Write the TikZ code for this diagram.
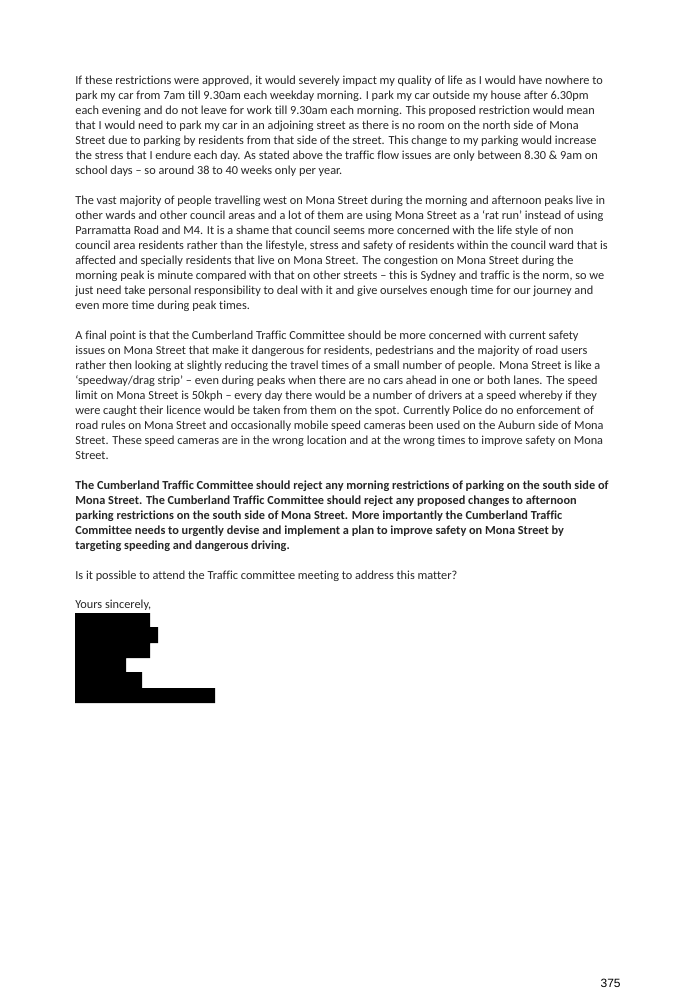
\documentclass[tikz,border=0pt]{standalone}
\usepackage{fontspec}
\setmainfont{Carlito}[Ligatures=NoCommon]
\newfontfamily\pagefont{Liberation Sans}
\tikzset{every picture/.style={line width=0.75pt}}
\tikzset{
  txt/.style={anchor=base west,inner sep=0pt,font=\fontsize{12.3}{15}\selectfont,text=black!85},
  btxt/.style={txt,font=\fontsize{12.3}{15}\selectfont\bfseries}
}
\begin{document}
\begin{tikzpicture}[x=1pt,y=1pt,yscale=-1,xscale=1]
    \useasboundingbox[fill=white] (0,0) rectangle (682,989);

    % Paragraph 1
    \node[txt] (a1) at (75,84) {If these restrictions were approved, it would severely impact my quality of life as I would have nowhere to};
    \node[txt] (a2) at (75,99) {park my car from 7am till 9.30am each weekday morning. I park my car outside my house after 6.30pm};
    \node[txt] (a3) at (75,114) {each evening and do not leave for work till 9.30am each morning. This proposed restriction would mean};
    \node[txt] (a4) at (75,129) {that I would need to park my car in an adjoining street as there is no room on the north side of Mona};
    \node[txt] (a5) at (75,144) {Street due to parking by residents from that side of the street. This change to my parking would increase};
    \node[txt] (a6) at (75,159) {the stress that I endure each day. As stated above the traffic flow issues are only between 8.30 \& 9am on};
    \node[txt] (a7) at (75,174) {school days – so around 38 to 40 weeks only per year.};

    % Paragraph 2
    \node[txt] (b1) at (75,204) {The vast majority of people travelling west on Mona Street during the morning and afternoon peaks live in};
    \node[txt] (b2) at (75,219) {other wards and other council areas and a lot of them are using Mona Street as a ‘rat run’ instead of using};
    \node[txt] (b3) at (75,234) {Parramatta Road and M4. It is a shame that council seems more concerned with the life style of non};
    \node[txt] (b4) at (75,249) {council area residents rather than the lifestyle, stress and safety of residents within the council ward that is};
    \node[txt] (b5) at (75,264) {affected and specially residents that live on Mona Street. The congestion on Mona Street during the};
    \node[txt] (b6) at (75,279) {morning peak is minute compared with that on other streets – this is Sydney and traffic is the norm, so we};
    \node[txt] (b7) at (75,294) {just need take personal responsibility to deal with it and give ourselves enough time for our journey and};
    \node[txt] (b8) at (75,309) {even more time during peak times.};

    % Paragraph 3
    \node[txt] (c1) at (75,339) {A final point is that the Cumberland Traffic Committee should be more concerned with current safety};
    \node[txt] (c2) at (75,354) {issues on Mona Street that make it dangerous for residents, pedestrians and the majority of road users};
    \node[txt] (c3) at (75,369) {rather then looking at slightly reducing the travel times of a small number of people. Mona Street is like a};
    \node[txt] (c4) at (75,384) {‘speedway/drag strip’ – even during peaks when there are no cars ahead in one or both lanes. The speed};
    \node[txt] (c5) at (75,399) {limit on Mona Street is 50kph – every day there would be a number of drivers at a speed whereby if they};
    \node[txt] (c6) at (75,414) {were caught their licence would be taken from them on the spot. Currently Police do no enforcement of};
    \node[txt] (c7) at (75,429) {road rules on Mona Street and occasionally mobile speed cameras been used on the Auburn side of Mona};
    \node[txt] (c8) at (75,444) {Street. These speed cameras are in the wrong location and at the wrong times to improve safety on Mona};
    \node[txt] (c9) at (75,459) {Street.};

    % Bold paragraph
    \node[btxt] (d1) at (75,489) {The Cumberland Traffic Committee should reject any morning restrictions of parking on the south side of};
    \node[btxt] (d2) at (75,504) {Mona Street. The Cumberland Traffic Committee should reject any proposed changes to afternoon};
    \node[btxt] (d3) at (75,519) {parking restrictions on the south side of Mona Street. More importantly the Cumberland Traffic};
    \node[btxt] (d4) at (75,534) {Committee needs to urgently devise and implement a plan to improve safety on Mona Street by};
    \node[btxt] (d5) at (75,549) {targeting speeding and dangerous driving.};

    \node[txt] (ask) at (75,579) {Is it possible to attend the Traffic committee meeting to address this matter?};
    \node[txt] (yours) at (75,608) {Yours sincerely,};

    % Redacted signature
    \fill[black] (75,613) -- (150,613) -- (150,627) -- (158,627) -- (158,643) -- (150,643)
        -- (150,658) -- (126,658) -- (126,672) -- (142,672) -- (142,688) -- (215,688)
        -- (215,703) -- (75,703) -- cycle;

    % Page number
    \node[anchor=base east,inner sep=0pt,font=\pagefont\fontsize{12}{14}\selectfont] (pg) at (621,987) {375};
\end{tikzpicture}
\end{document}
